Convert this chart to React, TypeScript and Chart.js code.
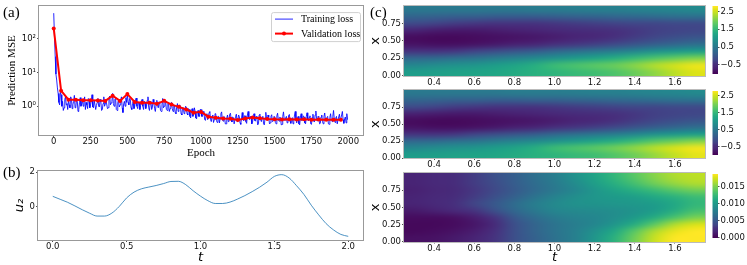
import React, { useEffect, useRef } from 'react';
import { Chart, registerables } from 'chart.js';

Chart.register(...registerables);

const SERIF = '"Liberation Serif", "Times New Roman", serif';
const SANS = '"DejaVu Sans", "Liberation Sans", sans-serif';

// ---------------- Panel (a): training / validation loss ----------------
const TRAIN_STEP = 5; // one stored training value every 5 epochs
const trainLoss = [
  580, 120, 30, 9, 6, 3.5, 2.4, 1.3, 1.1, 2.6, 2.2, 1.0, 1.4, 0.75, 0.9, 1.6, 1.9, 1.1, 1.2, 0.8,
  1.5, 1.1, 0.9, 1.9, 1.7, 0.85, 1.1, 1.4, 2.1, 0.9, 0.95, 1.6, 1.4, 0.7, 0.8, 1.3, 1.8, 1.0, 1.2, 1.5,
  1.0, 1.3, 1.9, 0.8, 1.3, 1.1, 0.85, 1.7, 1.6, 0.9, 1.1, 1.4, 2.2, 0.95, 0.9, 1.5, 1.5, 0.8, 1.05, 1.3,
  1.7, 1.0, 0.95, 1.6, 1.35, 0.75, 0.8, 1.2, 1.9, 1.0, 1.15, 1.5, 1.5, 0.85, 0.9, 1.7, 2.0, 1.1, 1.25, 1.4,
  2.4, 1.2, 1.0, 1.6, 1.7, 0.8, 0.75, 1.3, 1.5, 0.95, 1.1, 1.6, 1.9, 0.9, 0.65, 1.2, 1.4, 1.0, 1.8, 1.3,
  2.3, 1.3, 1.1, 1.7, 1.6, 0.9, 0.8, 1.2, 1.45, 0.85, 1.0, 1.5, 1.75, 1.0, 0.85, 1.3, 1.3, 0.8, 1.05, 1.4,
  1.6, 1.0, 0.8, 1.4, 1.3, 0.85, 1.0, 1.5, 1.9, 0.9, 0.75, 1.2, 1.4, 0.8, 0.95, 1.6, 1.25, 0.85, 0.7, 1.1,
  1.5, 1.05, 0.9, 1.35, 1.2, 0.75, 0.7, 1.1, 1.7, 0.9, 1.0, 1.4, 1.35, 0.8, 0.75, 1.2, 1.15, 0.7, 0.85, 1.25,
  1.3, 0.85, 0.7, 1.1, 1.05, 0.65, 0.6, 0.95, 1.2, 0.7, 0.8, 1.1, 1.0, 0.6, 0.55, 0.9, 0.9, 0.6, 0.65, 1.0,
  0.95, 0.6, 0.55, 0.85, 0.8, 0.5, 0.45, 0.75, 0.85, 0.5, 0.6, 0.9, 0.7, 0.45, 0.42, 0.7, 0.75, 0.5, 0.5, 0.8,
  0.8, 0.5, 0.5, 0.7, 0.65, 0.4, 0.38, 0.55, 0.6, 0.4, 0.45, 0.65, 0.7, 0.4, 0.35, 0.5, 0.55, 0.33, 0.4, 0.6,
  0.6, 0.38, 0.33, 0.5, 0.5, 0.32, 0.42, 0.6, 0.68, 0.4, 0.36, 0.5, 0.48, 0.3, 0.3, 0.45, 0.55, 0.35, 0.4, 0.58,
  0.62, 0.4, 0.34, 0.48, 0.46, 0.3, 0.3, 0.5, 0.58, 0.35, 0.38, 0.55, 0.5, 0.32, 0.29, 0.45, 0.65, 0.4, 0.37, 0.52,
  0.52, 0.35, 0.31, 0.55, 0.7, 0.42, 0.4, 0.5, 0.48, 0.3, 0.33, 0.52, 0.6, 0.38, 0.36, 0.5, 0.45, 0.28, 0.3, 0.55,
  0.58, 0.4, 0.35, 0.47, 0.5, 0.3, 0.28, 0.45, 0.66, 0.42, 0.39, 0.55, 0.47, 0.3, 0.32, 0.5, 0.56, 0.35, 0.37, 0.5,
  0.49, 0.33, 0.3, 0.52, 0.62, 0.4, 0.36, 0.48, 0.45, 0.28, 0.29, 0.5, 0.68, 0.42, 0.38, 0.46, 0.5, 0.32, 0.33, 0.54,
  0.57, 0.36, 0.31, 0.42, 0.46, 0.3, 0.35, 0.55, 0.7, 0.4, 0.32, 0.45, 0.5, 0.3, 0.28, 0.48, 0.6, 0.38, 0.4, 0.52,
  0.48, 0.32, 0.3, 0.5, 0.64, 0.4, 0.37, 0.47, 0.52, 0.3, 0.29, 0.46, 0.58, 0.36, 0.34, 0.55, 0.72, 0.42, 0.36, 0.5,
  0.47, 0.3, 0.31, 0.48, 0.55, 0.35, 0.3, 0.5, 0.63, 0.4, 0.38, 0.46, 0.5, 0.3, 0.29, 0.47, 0.6, 0.38, 0.35, 0.5,
  0.75, 0.42, 0.33, 0.45, 0.5, 0.3, 0.3, 0.48, 0.58, 0.36, 0.36, 0.55, 0.7, 0.4, 0.31, 0.42, 0.48, 0.32, 0.6, 0.4,
];
const valEpochs = [
  0, 50, 100, 150, 200, 250, 300, 350, 400, 450, 500, 550, 600, 650, 700, 750, 800, 850, 900, 950,
  1000, 1050, 1100, 1150, 1200, 1250, 1300, 1350, 1400, 1450, 1500, 1550, 1600, 1650, 1700, 1750, 1800, 1850, 1900, 1950,
];
const valLoss = [
  205, 2.9, 1.57, 1.55, 1.5, 1.5, 1.48, 1.44, 2.05, 1.44, 2.3, 1.34, 1.28, 1.26, 1.18, 1.45, 1.12, 0.96, 0.8, 0.64,
  0.68, 0.49, 0.455, 0.435, 0.425, 0.39, 0.43, 0.465, 0.44, 0.42, 0.41, 0.405, 0.41, 0.405, 0.41, 0.4, 0.405, 0.4, 0.4, 0.4,
];
const epochTicks = [0, 250, 500, 750, 1000, 1250, 1500, 1750, 2000];
const mseTicks = [1, 10, 100];
const mseTickLabels = ['10⁰', '10¹', '10²'];

// ---------------- Panel (b): u2(t) ----------------
const tSeries = [
  0, 0.05, 0.1, 0.15, 0.2, 0.25, 0.3, 0.35, 0.4, 0.45, 0.5, 0.55, 0.6, 0.65, 0.7, 0.75, 0.8, 0.85, 0.9, 0.95,
  1.0, 1.05, 1.1, 1.15, 1.2, 1.25, 1.3, 1.35, 1.4, 1.45, 1.5, 1.55, 1.6, 1.65, 1.7, 1.75, 1.8, 1.85, 1.9, 1.95, 2.0,
];
const u2 = [
  0.61, 0.44, 0.27, 0.06, -0.16, -0.36, -0.52, -0.52, -0.35, 0.03, 0.52, 0.85, 1.04, 1.14, 1.23, 1.34, 1.46, 1.47, 1.28, 0.93,
  0.62, 0.36, 0.2, 0.2, 0.28, 0.45, 0.65, 0.88, 1.13, 1.42, 1.75, 1.85, 1.66, 1.22, 0.72, 0.1, -0.45, -0.95, -1.31, -1.57, -1.68,
];
const tTicks = [0, 0.5, 1, 1.5, 2];
const u2Ticks = [0, 2];

// ---------------- Panel (c): heatmaps over (t, x) ----------------
const tCells = [0.3, 0.4, 0.5, 0.6, 0.7, 0.8, 0.9, 1.0, 1.1, 1.2, 1.3, 1.4, 1.5, 1.6, 1.7];
const xCells = [0.95, 0.85, 0.75, 0.65, 0.55, 0.45, 0.35, 0.25, 0.15, 0.05];
const uTop = [
  [0.51, 0.51, 0.51, 0.51, 0.51, 0.51, 0.55, 0.55, 0.58, 0.62, 0.62, 0.66, 0.70, 0.73, 0.77],
  [0.21, 0.17, 0.13, 0.13, 0.09, 0.09, 0.09, 0.13, 0.17, 0.21, 0.24, 0.28, 0.32, 0.36, 0.39],
  [-0.17, -0.25, -0.32, -0.36, -0.40, -0.40, -0.40, -0.36, -0.32, -0.28, -0.25, -0.21, -0.21, -0.17, -0.17],
  [-0.62, -0.70, -0.74, -0.74, -0.70, -0.66, -0.62, -0.55, -0.51, -0.47, -0.43, -0.36, -0.28, -0.25, -0.21],
  [-0.89, -0.92, -0.92, -0.89, -0.85, -0.81, -0.77, -0.70, -0.62, -0.55, -0.43, -0.32, -0.21, -0.10, -0.02],
  [-0.81, -0.85, -0.85, -0.81, -0.74, -0.66, -0.59, -0.43, -0.36, -0.28, -0.17, -0.02, 0.13, 0.24, 0.36],
  [-0.40, -0.40, -0.36, -0.25, -0.13, -0.02, 0.09, 0.24, 0.36, 0.47, 0.58, 0.73, 0.89, 1.00, 1.11],
  [0.24, 0.28, 0.36, 0.43, 0.55, 0.66, 0.77, 0.89, 1.04, 1.19, 1.34, 1.53, 1.71, 1.87, 2.02],
  [0.73, 0.81, 0.89, 0.96, 1.07, 1.19, 1.34, 1.56, 1.68, 1.79, 1.90, 2.09, 2.32, 2.51, 2.66],
  [1.07, 1.11, 1.15, 1.19, 1.22, 1.30, 1.38, 1.45, 1.53, 1.60, 1.71, 1.90, 2.13, 2.39, 2.58],
];
const uMid = [
  [0.51, 0.51, 0.51, 0.51, 0.51, 0.55, 0.55, 0.55, 0.58, 0.62, 0.62, 0.66, 0.70, 0.73, 0.77],
  [0.21, 0.17, 0.13, 0.13, 0.09, 0.09, 0.13, 0.13, 0.17, 0.21, 0.24, 0.28, 0.32, 0.36, 0.39],
  [-0.17, -0.25, -0.32, -0.36, -0.40, -0.40, -0.40, -0.36, -0.32, -0.28, -0.25, -0.21, -0.21, -0.17, -0.17],
  [-0.66, -0.70, -0.74, -0.74, -0.70, -0.66, -0.62, -0.55, -0.51, -0.47, -0.43, -0.36, -0.28, -0.25, -0.21],
  [-0.89, -0.92, -0.92, -0.89, -0.85, -0.81, -0.77, -0.70, -0.62, -0.55, -0.43, -0.32, -0.21, -0.10, -0.02],
  [-0.81, -0.85, -0.85, -0.81, -0.74, -0.66, -0.59, -0.43, -0.36, -0.28, -0.17, -0.02, 0.13, 0.24, 0.36],
  [-0.40, -0.40, -0.36, -0.25, -0.13, -0.02, 0.09, 0.24, 0.36, 0.47, 0.58, 0.73, 0.89, 1.00, 1.11],
  [0.24, 0.28, 0.36, 0.43, 0.55, 0.66, 0.77, 0.89, 1.04, 1.19, 1.34, 1.53, 1.75, 1.90, 2.06],
  [0.73, 0.81, 0.89, 0.96, 1.07, 1.19, 1.34, 1.56, 1.68, 1.79, 1.94, 2.13, 2.36, 2.55, 2.69],
  [1.07, 1.11, 1.15, 1.19, 1.22, 1.30, 1.38, 1.45, 1.53, 1.60, 1.75, 1.94, 2.17, 2.43, 2.62],
];
// absolute error, in units of 1e-3
const errMilli = [
  [1.9, 2.3, 2.6, 3.4, 4.5, 5.6, 6.8, 7.9, 9.4, 10.9, 12.4, 13.9, 15.4, 16.5, 16.9],
  [1.9, 2.3, 2.6, 3.4, 4.3, 5.5, 6.6, 7.7, 9.0, 10.5, 11.8, 13.2, 14.7, 15.8, 16.5],
  [1.7, 2.1, 2.4, 3.2, 4.1, 5.3, 6.4, 7.5, 8.6, 9.8, 10.9, 11.8, 12.8, 13.9, 14.7],
  [1.9, 2.3, 2.6, 3.4, 4.5, 5.8, 7.1, 8.3, 9.2, 9.8, 10.2, 10.5, 11.3, 12.0, 12.8],
  [1.9, 2.3, 2.8, 3.8, 5.1, 6.6, 7.9, 8.8, 9.4, 9.6, 9.8, 10.0, 10.3, 11.3, 12.4],
  [1.3, 1.7, 2.3, 3.0, 4.5, 6.2, 7.5, 8.5, 8.8, 9.0, 9.2, 9.6, 10.3, 11.7, 13.2],
  [0.6, 0.6, 0.8, 1.5, 3.0, 5.1, 6.6, 7.7, 8.3, 8.6, 9.2, 10.2, 11.7, 13.5, 15.0],
  [0.4, 0.4, 0.6, 1.1, 2.4, 4.5, 6.0, 7.1, 7.9, 8.6, 9.8, 11.7, 14.1, 16.5, 17.7],
  [0.4, 0.6, 0.9, 1.5, 2.8, 4.5, 6.0, 7.1, 8.1, 9.4, 11.3, 13.9, 16.5, 18.2, 18.8],
  [0.8, 0.9, 1.3, 1.9, 3.0, 4.5, 5.8, 7.0, 8.1, 9.8, 12.0, 14.7, 17.3, 18.8, 18.8],
];
const hmTTicks = [0.4, 0.6, 0.8, 1.0, 1.2, 1.4, 1.6];
const hmXTicks = [0, 0.25, 0.5, 0.75];
const uRange = [-1.0, 2.77];
const errRange = [0, 0.0188];
const uBarTicks = [-0.5, 0.5, 1.5, 2.5];
const errBarTicks = [0, 0.005, 0.01, 0.015];

// ---------------- helpers ----------------
const VIRIDIS = [
  '#440154', '#471365', '#482475', '#472f7d', '#414487', '#3b528b', '#355f8d', '#2f6c8e', '#2a788e', '#25848e',
  '#21918c', '#1e9c89', '#22a884', '#2fb47c', '#44bf70', '#5ec962', '#7ad151', '#9dd93b', '#bddf26', '#dde318', '#fde725',
];
const VIR_RGB = VIRIDIS.map((h) => [parseInt(h.slice(1, 3), 16), parseInt(h.slice(3, 5), 16), parseInt(h.slice(5, 7), 16)]);
function viridisRGB(n: number): number[] {
  const c = Math.min(1, Math.max(0, n)) * (VIR_RGB.length - 1);
  const i = Math.min(VIR_RGB.length - 2, Math.floor(c));
  const f = c - i;
  const a = VIR_RGB[i];
  const b = VIR_RGB[i + 1];
  return [0, 1, 2].map((k) => Math.round(a[k] + (b[k] - a[k]) * f));
}
function viridis(n: number): string {
  const [r, g, b] = viridisRGB(n);
  return `rgb(${r},${g},${b})`;
}

const fixedTicks = (vals: number[]) => (scale: any) => {
  scale.ticks = vals.map((value) => ({ value }));
};
const setW = (w: number) => (scale: any) => {
  scale.width = w;
};
const setH = (h: number) => (scale: any) => {
  scale.height = h;
};

const TICK_FONT = { family: SANS, size: 8.5 };
const tickGrid = (len: number) => ({
  drawOnChartArea: false,
  drawTicks: true,
  tickLength: len,
  color: '#222',
  lineWidth: 0.8,
});

const framePlugin = {
  id: 'frame',
  afterDatasetsDraw(chart: any, _args: any, opts: any) {
    const { left, top, right, bottom } = chart.chartArea;
    const ctx = chart.ctx;
    ctx.save();
    ctx.strokeStyle = opts.color || '#999';
    ctx.lineWidth = 1;
    ctx.strokeRect(Math.round(left) - 0.5, Math.round(top) - 0.5, Math.round(right) - Math.round(left) + 1, Math.round(bottom) - Math.round(top) + 1);
    ctx.restore();
  },
};

// Heatmap: the value grid is painted as an image whose extent comes from the chart's scales
const heatPlugin = {
  id: 'heat',
  beforeDatasetsDraw(chart: any, _args: any, o: any) {
    if (!o || !o.grid) return;
    const xs = chart.scales.x;
    const ys = chart.scales.y;
    const rows = o.grid.length;
    const cols = o.grid[0].length;
    const off = document.createElement('canvas');
    off.width = cols;
    off.height = rows;
    const octx = off.getContext('2d') as CanvasRenderingContext2D;
    const img = octx.createImageData(cols, rows);
    o.grid.forEach((row: number[], r: number) => {
      row.forEach((v: number, c: number) => {
        const [R, G, B] = viridisRGB((v * o.unit - o.vmin) / (o.vmax - o.vmin));
        const k = (r * cols + c) * 4;
        img.data[k] = R;
        img.data[k + 1] = G;
        img.data[k + 2] = B;
        img.data[k + 3] = 255;
      });
    });
    octx.putImageData(img, 0, 0);
    const x0 = xs.getPixelForValue(o.tCells[0] - o.dt / 2);
    const x1 = xs.getPixelForValue(o.tCells[cols - 1] + o.dt / 2);
    const y0 = ys.getPixelForValue(o.xCells[0] + o.dx / 2);
    const y1 = ys.getPixelForValue(o.xCells[rows - 1] - o.dx / 2);
    const ctx = chart.ctx;
    ctx.save();
    ctx.imageSmoothingEnabled = true;
    ctx.imageSmoothingQuality = 'high';
    ctx.drawImage(off, x0, y0, x1 - x0, y1 - y0);
    ctx.restore();
  },
};

const colorbarPlugin = {
  id: 'cbar',
  beforeDatasetsDraw(chart: any, _args: any, o: any) {
    if (!o || o.vmin === undefined) return;
    const ys = chart.scales.y;
    const { left, right, top, bottom } = chart.chartArea;
    const ctx = chart.ctx;
    ctx.save();
    for (let py = Math.floor(top); py < Math.ceil(bottom); py++) {
      const v = ys.getValueForPixel(py + 0.5);
      ctx.fillStyle = viridis((v - o.vmin) / (o.vmax - o.vmin));
      ctx.fillRect(left, py, right - left, 1);
    }
    ctx.restore();
  },
};

const legendPlugin = {
  id: 'lossLegend',
  afterDatasetsDraw(chart: any) {
    const ctx = chart.ctx;
    const { right, top } = chart.chartArea;
    const bw = 89;
    const bh = 29;
    const bx = right - bw - 3;
    const by = top + 6;
    ctx.save();
    ctx.fillStyle = 'rgba(255,255,255,0.85)';
    ctx.strokeStyle = '#d0d0d0';
    ctx.lineWidth = 1;
    ctx.beginPath();
    ctx.roundRect(bx + 0.5, by + 0.5, bw, bh, 2);
    ctx.fill();
    ctx.stroke();
    ctx.font = `10px ${SERIF}`;
    ctx.textBaseline = 'middle';
    chart.data.datasets.forEach((ds: any, i: number) => {
      const ly = by + 7 + i * 14.5;
      ctx.strokeStyle = ds.borderColor;
      ctx.lineWidth = ds.borderWidth;
      ctx.beginPath();
      ctx.moveTo(bx + 4, ly);
      ctx.lineTo(bx + 22, ly);
      ctx.stroke();
      if (ds.pointRadius > 0) {
        ctx.fillStyle = ds.pointBackgroundColor;
        ctx.beginPath();
        ctx.arc(bx + 13, ly, ds.pointRadius, 0, Math.PI * 2);
        ctx.fill();
      }
      ctx.fillStyle = '#000';
      ctx.fillText(ds.label, bx + 30, ly + 0.5);
    });
    ctx.restore();
  },
};

// ---------------- chart configs ----------------
function lossConfig() {
  return {
    type: 'line',
    data: {
      datasets: [
        {
          label: 'Training loss',
          data: trainLoss.map((v, i) => ({ x: i * TRAIN_STEP, y: v })),
          borderColor: 'rgba(0,0,255,0.85)',
          borderWidth: 1,
          pointRadius: 0,
          tension: 0,
          order: 2,
        },
        {
          label: 'Validation loss',
          data: valEpochs.map((e, i) => ({ x: e, y: valLoss[i] })),
          borderColor: '#ff0000',
          borderWidth: 2,
          pointRadius: 2,
          pointBackgroundColor: '#ff0000',
          pointBorderWidth: 0,
          tension: 0,
          order: 1,
        },
      ],
    },
    options: {
      animation: false,
      responsive: false,
      devicePixelRatio: 1,
      events: [],
      layout: { padding: { left: 0, top: 5, right: 9, bottom: 0 }, autoPadding: false },
      plugins: { legend: { display: false }, tooltip: { enabled: false }, frame: { color: '#999' } },
      scales: {
        x: {
          type: 'linear',
          min: -100,
          max: 2100,
          afterBuildTicks: fixedTicks(epochTicks),
          afterFit: setH(25),
          ticks: { autoSkip: false, maxRotation: 0, minRotation: 0, padding: 0, color: '#111', font: TICK_FONT, callback: (v: any) => String(v) },
          grid: tickGrid(2),
          border: { display: false },
          title: { display: true, text: 'Epoch', color: '#000', font: { family: SERIF, size: 11 }, padding: { top: 2, bottom: 0 } },
        },
        y: {
          type: 'logarithmic',
          min: 0.14,
          max: 940,
          afterBuildTicks: fixedTicks(mseTicks),
          afterFit: setW(39),
          ticks: {
            autoSkip: false,
            padding: 1,
            color: '#111',
            font: TICK_FONT,
            callback: (v: any) => mseTickLabels[mseTicks.indexOf(Number(v))] ?? '',
          },
          grid: tickGrid(2),
          border: { display: false },
          title: { display: true, text: 'Prediction MSE', color: '#000', font: { family: SERIF, size: 11 }, padding: { top: 6, bottom: 0 } },
        },
      },
    },
    plugins: [framePlugin, legendPlugin],
  };
}

function u2Config() {
  return {
    type: 'line',
    data: {
      datasets: [
        {
          label: 'u2',
          data: tSeries.map((t, i) => ({ x: t, y: u2[i] })),
          borderColor: 'rgba(31,119,180,0.8)',
          borderWidth: 1,
          pointRadius: 0,
          cubicInterpolationMode: 'monotone',
        },
      ],
    },
    options: {
      animation: false,
      responsive: false,
      devicePixelRatio: 1,
      events: [],
      layout: { padding: { left: 0, top: 11, right: 9, bottom: 0 }, autoPadding: false },
      plugins: { legend: { display: false }, tooltip: { enabled: false }, frame: { color: '#999' } },
      scales: {
        x: {
          type: 'linear',
          min: -0.1,
          max: 2.1,
          afterBuildTicks: fixedTicks(tTicks),
          afterFit: setH(25),
          ticks: { autoSkip: false, maxRotation: 0, minRotation: 0, padding: 0, color: '#111', font: TICK_FONT, callback: (v: any) => Number(v).toFixed(1) },
          grid: tickGrid(2),
          border: { display: false },
          title: { display: true, text: 't', color: '#000', font: { family: SANS, size: 13, style: 'italic' }, padding: { top: 0, bottom: 0 } },
        },
        y: {
          type: 'linear',
          min: -1.89,
          max: 2.06,
          afterBuildTicks: fixedTicks(u2Ticks),
          afterFit: setW(38),
          ticks: { autoSkip: false, padding: 1, color: '#111', font: TICK_FONT, callback: (v: any) => String(v) },
          grid: tickGrid(2),
          border: { display: false },
          title: { display: true, text: 'u₂', color: '#000', font: { family: SANS, size: 13, style: 'italic' }, padding: { top: 12, bottom: 0 } },
        },
      },
    },
    plugins: [framePlugin],
  };
}

function heatConfig(grid: number[][], unit: number, range: number[], padTop: number, xAxisH: number, showT: boolean) {
  return {
    type: 'scatter',
    data: { datasets: [] },
    options: {
      animation: false,
      responsive: false,
      devicePixelRatio: 1,
      events: [],
      layout: { padding: { left: 0, top: padTop, right: 7, bottom: 0 }, autoPadding: false },
      plugins: {
        legend: { display: false },
        tooltip: { enabled: false },
        frame: { color: '#bbb' },
        heat: { grid, unit, tCells, xCells, dt: 0.1, dx: 0.1, vmin: range[0], vmax: range[1] },
      },
      scales: {
        x: {
          type: 'linear',
          min: 0.25,
          max: 1.75,
          afterBuildTicks: fixedTicks(hmTTicks),
          afterFit: setH(xAxisH),
          ticks: { autoSkip: false, maxRotation: 0, minRotation: 0, padding: 0, color: '#111', font: TICK_FONT, callback: (v: any) => Number(v).toFixed(1) },
          grid: tickGrid(2),
          border: { display: false },
          title: showT
            ? { display: true, text: 't', color: '#000', font: { family: SANS, size: 13, style: 'italic' }, padding: { top: 0, bottom: 0 } }
            : { display: false },
        },
        y: {
          type: 'linear',
          min: 0,
          max: 1,
          afterBuildTicks: fixedTicks(hmXTicks),
          afterFit: setW(38),
          ticks: { autoSkip: false, padding: 1, color: '#111', font: TICK_FONT, callback: (v: any) => Number(v).toFixed(2) },
          grid: tickGrid(2),
          border: { display: false },
          title: { display: true, text: 'x', color: '#000', font: { family: SANS, size: 13 }, padding: { top: 2, bottom: 0 } },
        },
      },
    },
    plugins: [heatPlugin, framePlugin],
  };
}

function colorbarConfig(range: number[], ticks: number[], fmt: (v: number) => string, padTop: number, padBottom: number) {
  return {
    type: 'scatter',
    data: { datasets: [] },
    options: {
      animation: false,
      responsive: false,
      devicePixelRatio: 1,
      events: [],
      layout: { padding: { left: 7.5, top: padTop, right: 0, bottom: padBottom }, autoPadding: false },
      plugins: { legend: { display: false }, tooltip: { enabled: false }, cbar: { vmin: range[0], vmax: range[1] } },
      scales: {
        x: { type: 'linear', display: false, min: 0, max: 1 },
        y: {
          type: 'linear',
          position: 'right',
          min: range[0],
          max: range[1],
          afterBuildTicks: fixedTicks(ticks),
          afterFit: setW(29),
          ticks: { autoSkip: false, padding: 1, color: '#111', font: TICK_FONT, callback: (v: any) => fmt(Number(v)) },
          grid: tickGrid(1.5),
          border: { display: false },
        },
      },
    },
    plugins: [colorbarPlugin],
  };
}

// ---------------- components ----------------
type Box = { left: number; top: number; width: number; height: number };

function ChartCanvas({ box, make }: { box: Box; make: () => any }) {
  const ref = useRef<HTMLCanvasElement>(null);
  useEffect(() => {
    const chart = new Chart(ref.current as HTMLCanvasElement, make());
    return () => chart.destroy();
  }, []);
  return (
    <canvas
      ref={ref}
      width={box.width}
      height={box.height}
      style={{ position: 'absolute', left: box.left, top: box.top, width: box.width, height: box.height }}
    />
  );
}

const labelStyle = (left: number, top: number): React.CSSProperties => ({
  position: 'absolute',
  left,
  top,
  font: `15px ${SERIF}`,
  lineHeight: '15px',
  color: '#000',
});

const fmtU = (v: number) => (v < 0 ? '\u2212' + Math.abs(v).toFixed(1) : v.toFixed(1));
const fmtErr = (v: number) => v.toFixed(3);

export default function App() {
  return (
    <div style={{ position: 'absolute', left: 0, top: 0, width: 747, height: 265, background: '#fff', overflow: 'hidden' }}>
      <ChartCanvas box={{ left: 0, top: 0, width: 372, height: 160 }} make={lossConfig} />
      <ChartCanvas box={{ left: 0, top: 160, width: 372, height: 105 }} make={u2Config} />
      <ChartCanvas box={{ left: 366, top: 0, width: 346, height: 88 }} make={() => heatConfig(uTop, 1, uRange, 6, 12.5, false)} />
      <ChartCanvas box={{ left: 366, top: 84, width: 346, height: 88 }} make={() => heatConfig(uMid, 1, uRange, 5, 14, false)} />
      <ChartCanvas box={{ left: 366, top: 167, width: 346, height: 98 }} make={() => heatConfig(errMilli, 0.001, errRange, 5, 23.5, true)} />
      <ChartCanvas box={{ left: 705, top: 0, width: 42, height: 80 }} make={() => colorbarConfig(uRange, uBarTicks, fmtU, 6.5, 4)} />
      <ChartCanvas box={{ left: 705, top: 85, width: 42, height: 76 }} make={() => colorbarConfig(uRange, uBarTicks, fmtU, 5, 3.5)} />
      <ChartCanvas box={{ left: 705, top: 168, width: 42, height: 76 }} make={() => colorbarConfig(errRange, errBarTicks, fmtErr, 4.5, 3)} />
      <div style={labelStyle(3, 5)}>(a)</div>
      <div style={labelStyle(3, 165)}>(b)</div>
      <div style={labelStyle(370, 5)}>(c)</div>
    </div>
  );
}
